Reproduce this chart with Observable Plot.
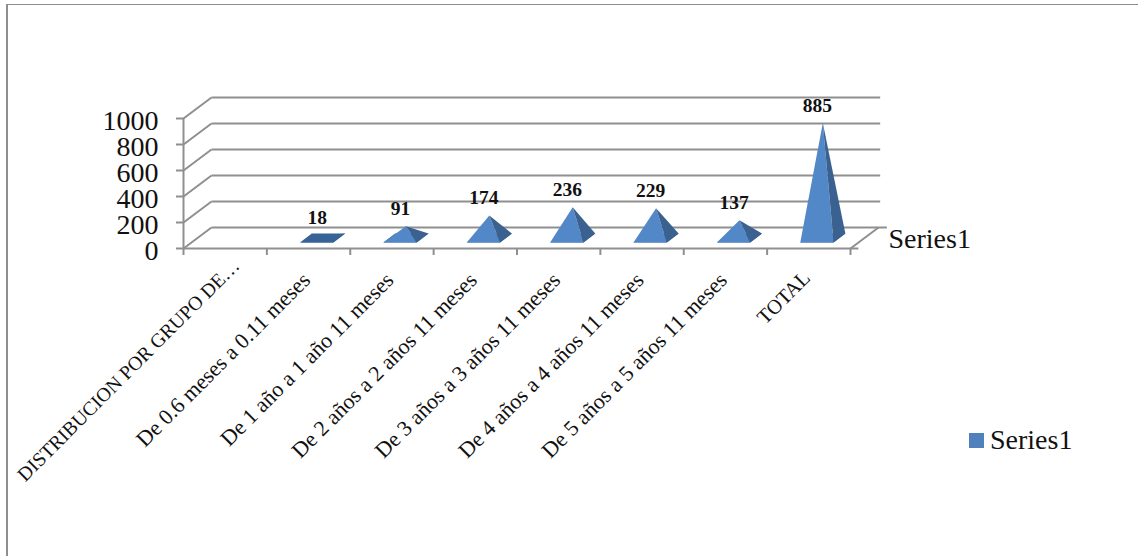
<!DOCTYPE html>
<html><head><meta charset="utf-8">
<script src="https://cdn.jsdelivr.net/npm/d3@7"></script>
<script src="https://cdn.jsdelivr.net/npm/@observablehq/plot@0.6"></script>
<style>
html,body{margin:0;padding:0;background:#fff;}
#frame{position:absolute;left:0;top:0;width:1138px;height:556px;overflow:hidden;}
#frame svg{display:block;font-family:"Liberation Serif",serif;}
#border{position:absolute;left:6px;top:4px;width:1132px;height:552px;border-left:2px solid #8e8e8e;border-top:1px solid #8e8e8e;box-sizing:border-box;}
#legend{position:absolute;left:969px;top:424px;display:flex;align-items:center;font:28px "Liberation Serif",serif;color:#111;}
#legend i{display:block;width:15px;height:15px;background:#4f81bd;margin-right:6px;}
</style></head><body>
<div id="frame"><div id="border"></div><div id="chart"></div>
<div id="legend"><i></i><span>Series1</span></div></div>
<script>
const categories = ["DISTRIBUCION POR GRUPO DE…","De 0.6 meses a 0.11 meses","De 1 año a 1 año 11 meses","De 2 años a 2 años 11 meses","De 3 años a 3 años 11 meses","De 4 años a 4 años 11 meses","De 5 años a 5 años 11 meses","TOTAL"];
const values = [null,18,91,174,236,229,137,885];
const labels = ["","18","91","174","236","229","137","885"];
const yTicks = [0,200,400,600,800,1000];
const seriesName = "Series1";

// oblique projection of the 3D chart, expressed in scale units
const depthX = 0.336, depthY = 161.5;
const P = (c, v, d) => ({x: c + d*depthX, y: v + d*depthY});
const halfW = 0.2, front = 0.29, back = 0.71;

const colLight = "#5287c8", colDark = "#3a6190", colBase = "#376396";
const grid = "#8f8f8f";

const faces = [];
values.forEach((v,i) => {
  if (v == null) return;
  const c = i + 0.5;
  const fl = P(c-halfW,0,front), fr = P(c+halfW,0,front), br = P(c+halfW,0,back), bl = P(c-halfW,0,back);
  const apex = P(c,v,0.5);
  faces.push({id:"b"+i, fill:colBase, pts:[fl,fr,br,bl]});
  faces.push({id:"f"+i, fill:v<40?colBase:colLight, pts:[fl,fr,apex]});
  faces.push({id:"r"+i, fill:v<40?colBase:colDark, pts:[fr,br,apex]});
});
const faceRows = faces.flatMap(f => f.pts.map(p => ({id:f.id, fill:f.fill, x:p.x, y:p.y})));

const wall = yTicks.map(v => ({a:P(0,v,0), b:P(0,v,1), c:P(8,v,1), v}));
const floorLink = [{a:P(8,0,0), b:P(8,0,1)}];
const catRows = categories.map((name,i) => ({name,i}));

const plot = Plot.plot({
  width:1138, height:556,
  marginLeft:183, marginRight:288, marginTop:118, marginBottom:308,
  x:{domain:[0,8]}, y:{domain:[0,1000]},
  style:{background:"transparent"},
  marks:[
    Plot.link(wall,{x1:d=>d.a.x,y1:d=>d.a.y,x2:d=>d.b.x,y2:d=>d.b.y,stroke:grid,strokeWidth:2}),
    Plot.link(wall,{x1:d=>d.b.x,y1:d=>d.b.y,x2:d=>d.c.x+(d.v===0?0.1:0.02),y2:d=>d.c.y,stroke:grid,strokeWidth:2}),
    Plot.link(floorLink,{x1:d=>d.a.x,y1:d=>d.a.y,x2:d=>d.b.x,y2:d=>d.b.y,stroke:grid,strokeWidth:2}),
    Plot.ruleX([0],{y1:0,y2:1000,stroke:grid,strokeWidth:2}),
    Plot.ruleY([0],{x1:0,x2:8.1,stroke:grid,strokeWidth:2}),
    Plot.axisY({values:yTicks,tickSize:7,stroke:grid,strokeWidth:2,tickFormat:()=>"",label:null}),
    Plot.axisX({values:d3.range(0,9),tickSize:7,stroke:grid,strokeWidth:2,tickFormat:()=>"",label:null}),
    Plot.text(yTicks,{x:0,y:d=>d,text:d=>String(d),textAnchor:"end",dx:-25,dy:2.5,fontSize:28,fill:"#111"}),
    Plot.line(faceRows,{x:"x",y:"y",z:"id",fill:"fill",stroke:null,curve:"linear-closed"}),
    Plot.text(catRows.filter(d=>d.i===0),{x:d=>d.i+0.5,y:0,text:"name",rotate:-45,textAnchor:"end",dy:14,dx:11,fontSize:19.7,fill:"#111"}),
    Plot.text(catRows.filter(d=>d.i>0&&d.i<7),{x:d=>d.i+0.5,y:0,text:"name",rotate:-45,textAnchor:"end",dy:28,dx:-2,fontSize:22,fill:"#111"}),
    Plot.text(catRows.filter(d=>d.i===7),{x:d=>d.i+0.5,y:0,text:"name",rotate:-45,textAnchor:"end",dy:26,dx:-2,fontSize:20.5,fill:"#111"}),
    Plot.text(values.map((v,i)=>({v,i})).filter(d=>d.v!=null),{x:d=>d.i+0.5+0.5*depthX-0.065,y:d=>d.v+0.5*depthY,text:d=>labels[d.i],dy:-17.5,fontSize:19.5,fontWeight:"bold",fill:"#111"}),
    Plot.text([seriesName],{x:8+depthX,y:0,text:d=>d,textAnchor:"start",dx:10,dy:-9,fontSize:28,fill:"#111"})
  ]
});
document.getElementById("chart").appendChild(plot);
</script></body></html>
